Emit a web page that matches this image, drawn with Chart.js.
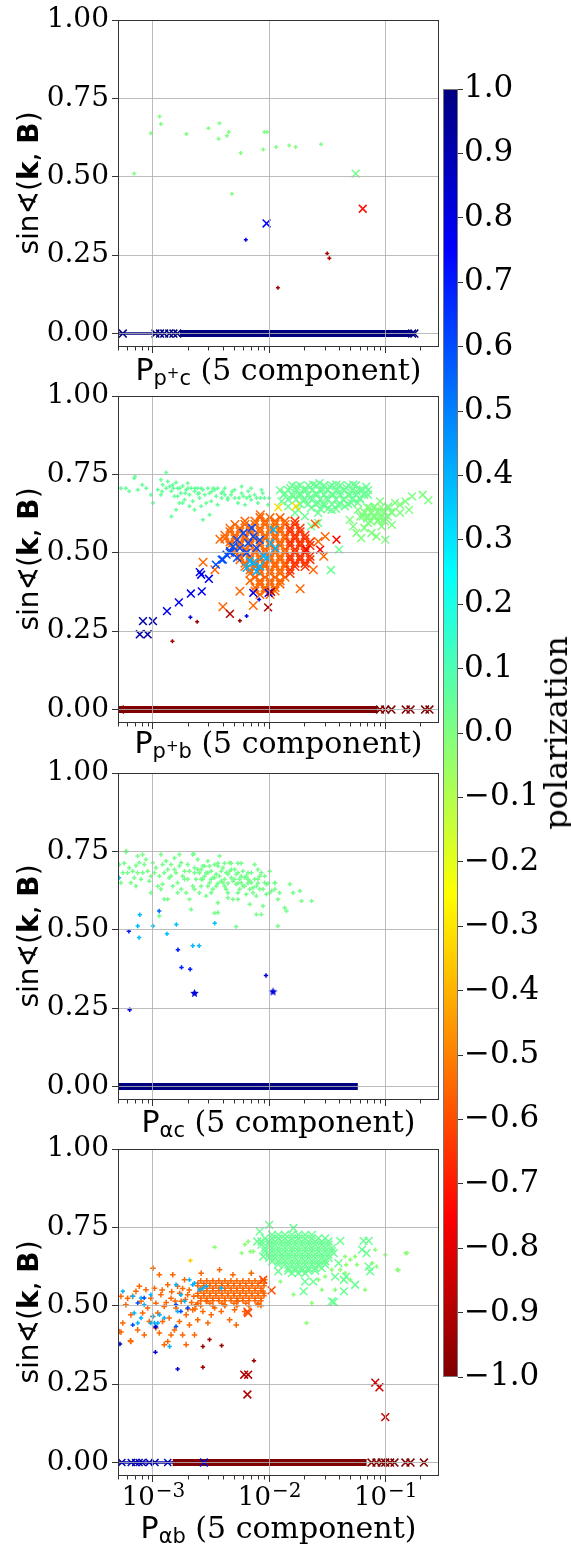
<!DOCTYPE html>
<html>
<head>
<meta charset="utf-8">
<title>sin(k,B) vs power, 5 component</title>
<script src="https://cdn.jsdelivr.net/npm/chart.js@4.4.1/dist/chart.umd.min.js"></script>
<style>
  html, body { margin: 0; padding: 0; background: #fff; }
  body { position: relative; width: 571px; height: 1547px; overflow: hidden; }
  canvas { position: absolute; }
  .ylab { position: absolute; left: 29px; font: 28px "DejaVu Sans"; line-height: 1; white-space: nowrap;
          transform: translate(-50%, -50%) rotate(-90deg); }
  .xlab { position: absolute; left: 118px; width: 321px; text-align: center; font: 30px "DejaVu Serif";
          line-height: 1; white-space: nowrap; }
  .m { font-family: "DejaVu Sans"; }
  .m sub { font-size: 21px; vertical-align: -5px; line-height: 0; }
  .m sup { font-size: 15px; vertical-align: 7px; line-height: 0; }
  .cblab { position: absolute; left: 556px; top: 733px; font: 32px "DejaVu Serif"; line-height: 1;
           white-space: nowrap; transform: translate(-50%, -50%) rotate(-90deg); }
</style>
</head>
<body>
<canvas id="c1" width="449" height="373" style="left:0;top:-4px"></canvas>
<canvas id="c2" width="449" height="373" style="left:0;top:372px"></canvas>
<canvas id="c3" width="449" height="373" style="left:0;top:749px"></canvas>
<canvas id="c4" width="449" height="401" style="left:0;top:1125px"></canvas>
<canvas id="cb" width="128" height="1328" style="left:443px;top:69px"></canvas>

<div class="ylab" style="top:183px">sin∢(<b>k</b>, <b>B</b>)</div>
<div class="ylab" style="top:559px">sin∢(<b>k</b>, <b>B</b>)</div>
<div class="ylab" style="top:936px">sin∢(<b>k</b>, <b>B</b>)</div>
<div class="ylab" style="top:1312px">sin∢(<b>k</b>, <b>B</b>)</div>

<div class="xlab" style="top:355px"><span class="m">P<sub>p<sup>+</sup>c</sub></span> (5 component)</div>
<div class="xlab" style="top:728px"><span class="m">P<sub>p<sup>+</sup>b</sub></span> (5 component)</div>
<div class="xlab" style="top:1107px"><span class="m">P<sub>αc</sub></span> (5 component)</div>
<div class="xlab" style="top:1513px"><span class="m">P<sub>αb</sub></span> (5 component)</div>

<div class="cblab">polarization</div>

<script>
// axes
const xMin = 5e-4, xMax = 0.29;
const yMin = -0.043, yMax = 1.0;
const yTicks = [0, 0.25, 0.5, 0.75, 1.0];
const xMajor = [1e-3, 1e-2, 1e-1];
const xTickExp = ['\u22123', '\u22122', '\u22121'];
const xMinor = [5e-4, 6e-4, 7e-4, 8e-4, 9e-4, 2e-3, 3e-3, 4e-3, 5e-3, 6e-3, 7e-3, 8e-3, 9e-3,
                2e-2, 3e-2, 4e-2, 5e-2, 6e-2, 7e-2, 8e-2, 9e-2, 2e-1];
const cbTicks = [-1.0, -0.9, -0.8, -0.7, -0.6, -0.5, -0.4, -0.3, -0.2, -0.1, 0.0,
                 0.1, 0.2, 0.3, 0.4, 0.5, 0.6, 0.7, 0.8, 0.9, 1.0];

// ---------- panel 1 : P_p+c ----------
const s1BandThin = [[5.1e-4, 0], [1.1e-3, 0]];
const s1BandThick = [[1.7e-3, 0], [0.17, 0]];
const s1BandCrossX = [5.5e-4, 1.05e-3, 1.15e-3, 1.25e-3, 1.38e-3, 1.5e-3, 1.62e-3, 0.17, 0.178];
const s1BandPol = 1.0;
const s1GreenPlus = [[6.9e-4,0.51],[9.6e-4,0.639],[1.14e-3,0.692],[1.17e-3,0.668],[1.94e-3,0.636],[3.0e-3,0.655],
  [3.74e-3,0.671],[3.67e-3,0.621],[4.33e-3,0.631],[4.49e-3,0.643],[5.7e-3,0.576],[4.78e-3,0.446],[8.9e-3,0.587],
  [9.1e-3,0.643],[9.6e-3,0.643],[1.15e-2,0.595],[1.49e-2,0.600],[1.69e-2,0.595],[2.8e-2,0.604]];
const s1GreenPol = 0.0;
const s1GreenCross = [[5.56e-2,0.51]];
const s1GreenCrossPol = 0.02;
const s1RedCross = [[6.4e-2,0.398]];
const s1RedCrossPol = -0.72;
const s1BlueCross = [[9.5e-3,0.351]];
const s1BlueCrossPol = 0.75;
const s1BluePlus = [[6.3e-3,0.299]];
const s1BluePlusPol = 0.8;
const s1DarkRedPlus = [[3.16e-2,0.255],[3.3e-2,0.24],[1.19e-2,0.146]];
const s1DarkRedPol = -0.92;

// ---------- panel 2 : P_p+b ----------
const s2BandThick = [[5.0e-4, 0], [8.6e-2, 0]];
const s2BandCrossX = [5.2e-4, 0.09, 0.1, 0.113, 0.15, 0.165, 0.22, 0.24];
const s2BandPol = -1.0;
const s2GreenPlus = [[5.0e-4,0.706],[5.3e-4,0.706],[5.85e-4,0.706],[6.25e-4,0.696],[6.9e-4,0.738],[7.0e-4,0.743],
  [7.4e-4,0.701],[8.1e-4,0.717],[8.75e-4,0.706],[9.6e-4,0.685],[1.0e-3,0.659],[1.1e-3,0.701],[1.17e-3,0.733],
  [1.17e-3,0.685],[1.21e-3,0.717],[1.3e-3,0.756],[1.3e-3,0.706],[1.34e-3,0.727],[1.39e-3,0.711],[1.44e-3,0.696],
  [1.44e-3,0.616],[1.48e-3,0.717],[1.5e-3,0.706],[1.53e-3,0.68],[1.58e-3,0.724],[1.58e-3,0.637],[1.63e-3,0.706],
  [1.63e-3,0.68],[1.69e-3,0.659],[1.7e-3,0.706],[1.74e-3,0.69],[1.8e-3,0.713],[1.8e-3,0.659],[1.87e-3,0.669],
  [1.93e-3,0.701],[1.99e-3,0.722],[2.0e-3,0.706],[2.06e-3,0.685],[2.06e-3,0.648],[2.13e-3,0.706],[2.2e-3,0.664],
  [2.28e-3,0.696],[2.28e-3,0.637],[2.3e-3,0.706],[2.43e-3,0.706],[2.43e-3,0.688],[2.52e-3,0.675],[2.6e-3,0.648],
  [2.6e-3,0.706],[2.69e-3,0.701],[2.69e-3,0.605],[2.79e-3,0.685],[2.88e-3,0.659],[2.97e-3,0.706],[3.07e-3,0.69],
  [3.07e-3,0.621],[3.18e-3,0.664],[3.3e-3,0.706],[3.4e-3,0.701],[3.5e-3,0.68],[3.6e-3,0.653],[3.6e-3,0.706],
  [3.87e-3,0.69],[3.9e-3,0.675],[4.15e-3,0.706],[4.15e-3,0.685],[4.4e-3,0.669],[4.4e-3,0.675],[4.7e-3,0.685],
  [5.05e-3,0.701],[5.05e-3,0.675],[5.4e-3,0.659],[5.5e-3,0.675],[5.8e-3,0.711],[6.0e-3,0.68],[6.2e-3,0.653],
  [6.4e-3,0.675],[6.6e-3,0.696],[7.0e-3,0.669],[7.0e-3,0.706],[7.5e-3,0.685],[7.8e-3,0.675],[8.0e-3,0.659],
  [8.4e-3,0.675],[8.6e-3,0.701],[9.1e-3,0.675],[9.8e-3,0.653],[1.2e-3,0.695],[1.9e-3,0.69],[2.5e-3,0.69],
  [3.2e-3,0.695],[4.0e-3,0.695],[4.8e-3,0.695],[5.8e-3,0.69],[6.8e-3,0.68],[8.8e-3,0.69],[1.0e-2,0.675]];
const s2GreenPlusPol = 0.05;
const s2GreenCross = [[1.28e-2,0.664],[1.37e-2,0.69],[1.46e-2,0.648],[1.52e-2,0.706],[1.62e-2,0.68],[1.67e-2,0.627],
  [1.72e-2,0.711],[1.78e-2,0.637],[1.84e-2,0.69],[1.97e-2,0.664],[2.03e-2,0.616],[2.1e-2,0.701],[2.24e-2,0.675],
  [2.3e-2,0.643],[2.3e-2,0.584],[2.39e-2,0.717],[2.55e-2,0.69],[2.64e-2,0.659],[2.64e-2,0.627],[2.64e-2,0.595],
  [2.72e-2,0.722],[2.9e-2,0.701],[3.0e-2,0.648],[3.1e-2,0.675],[3.32e-2,0.711],[3.45e-2,0.637],[3.57e-2,0.685],
  [3.8e-2,0.717],[3.9e-2,0.653],[4.05e-2,0.696],[4.35e-2,0.669],[4.5e-2,0.648],[4.65e-2,0.706],[4.95e-2,0.685],
  [5.1e-2,0.659],[5.3e-2,0.717],[5.65e-2,0.696],[5.8e-2,0.659],[6.0e-2,0.675],[6.4e-2,0.701],[6.85e-2,0.711],
  [7.1e-2,0.685],[3.4e-2,0.445],[4.0e-2,0.51],
  [1.58e-2,0.715],[1.85e-2,0.715],[2.17e-2,0.715],[2.54e-2,0.715],[2.97e-2,0.715],[3.48e-2,0.715],[4.09e-2,0.715],
  [4.8e-2,0.715],[5.6e-2,0.715],
  [1.242e-2,0.70],[1.46e-2,0.70],[1.71e-2,0.70],[2.0e-2,0.70],[2.34e-2,0.70],[2.75e-2,0.70],[3.2e-2,0.70],
  [3.77e-2,0.70],[4.4e-2,0.70],[5.2e-2,0.70],[6.1e-2,0.70],[7.1e-2,0.70],
  [1.34e-2,0.685],[1.58e-2,0.685],[1.85e-2,0.685],[2.17e-2,0.685],[2.54e-2,0.685],[2.97e-2,0.685],[3.48e-2,0.685],
  [4.09e-2,0.685],[4.8e-2,0.685],[5.6e-2,0.685],[6.6e-2,0.685],
  [1.46e-2,0.67],[1.71e-2,0.67],[2.0e-2,0.67],[2.34e-2,0.67],[2.75e-2,0.67],[3.2e-2,0.67],[3.77e-2,0.67],
  [4.4e-2,0.67],[5.2e-2,0.67],[6.1e-2,0.67],
  [1.85e-2,0.655],[2.17e-2,0.655],[2.54e-2,0.655],[2.97e-2,0.655],[3.48e-2,0.655],[4.09e-2,0.655],[4.8e-2,0.655],
  [2.75e-2,0.64],[3.2e-2,0.64],[3.77e-2,0.64]];
const s2GreenCrossPol = 0.04;
const s2LimeCross = [[5.8e-2,0.637],[6.4e-2,0.616],[7.1e-2,0.595],[7.6e-2,0.627],[8.1e-2,0.648],[8.7e-2,0.605],
  [9.3e-2,0.632],[0.1,0.61],[0.106,0.648],[0.114,0.627],[0.121,0.659],[6.6e-2,0.579],[7.6e-2,0.563],[8.4e-2,0.552],
  [0.1,0.542],[5.65e-2,0.563],[6.2e-2,0.547],[9.3e-2,0.584],[7.35e-2,0.643],[9.0e-2,0.664],[0.134,0.653],
  [0.149,0.664],[0.17,0.68],[0.21,0.685],[0.235,0.667],[0.134,0.627],[0.114,0.589],[0.16,0.637],[4.95e-2,0.605],
  [5.3e-2,0.584],[8.0e-2,0.62],[9.0e-2,0.61],[7.0e-2,0.61],
  [7.0e-2,0.645],[8.0e-2,0.645],[9.2e-2,0.645],[0.105,0.645],[6.6e-2,0.63],[7.5e-2,0.63],[8.6e-2,0.63],
  [9.9e-2,0.63],[0.113,0.63],[6.1e-2,0.615],[7.0e-2,0.615],[8.0e-2,0.615],[9.2e-2,0.615],[0.105,0.615],
  [7.5e-2,0.60],[8.6e-2,0.60],[9.9e-2,0.60]];
const s2LimeCrossPol = 0.0;
const s2YellowCross = [[1.2e-2,0.645],[1.7e-2,0.648],[1.11e-2,0.58]];
const s2YellowPol = -0.32;
const s2Orange = [
  [8.34e-3,0.612],[1.019e-2,0.612],[1.242e-2,0.612],
  [6.19e-3,0.601],[7.55e-3,0.601],[9.22e-3,0.601],[1.125e-2,0.601],[1.372e-2,0.601],
  [5.08e-3,0.590],[6.19e-3,0.590],[7.55e-3,0.590],[9.22e-3,0.590],[1.125e-2,0.590],[1.372e-2,0.590],
  [4.6e-3,0.578],[5.61e-3,0.578],[6.84e-3,0.578],[8.34e-3,0.578],[1.019e-2,0.578],[1.242e-2,0.578],
  [4.6e-3,0.567],[5.61e-3,0.567],[6.84e-3,0.567],[8.34e-3,0.567],[1.019e-2,0.567],[1.242e-2,0.567],
  [4.16e-3,0.556],[5.08e-3,0.556],[6.19e-3,0.556],[7.55e-3,0.556],[9.22e-3,0.556],[1.125e-2,0.556],[1.372e-2,0.556],
  [4.16e-3,0.545],[5.08e-3,0.545],[6.19e-3,0.545],[7.55e-3,0.545],[9.22e-3,0.545],[1.125e-2,0.545],[1.372e-2,0.545],
  [4.6e-3,0.534],[5.61e-3,0.534],[6.84e-3,0.534],[8.34e-3,0.534],[1.019e-2,0.534],[1.242e-2,0.534],
  [4.6e-3,0.523],[5.61e-3,0.523],[6.84e-3,0.523],[8.34e-3,0.523],[1.019e-2,0.523],[1.242e-2,0.523],
  [5.08e-3,0.511],[6.19e-3,0.511],[7.55e-3,0.511],[9.22e-3,0.511],[1.125e-2,0.511],[1.372e-2,0.511],
  [5.08e-3,0.500],[6.19e-3,0.500],[7.55e-3,0.500],[9.22e-3,0.500],[1.125e-2,0.500],[1.372e-2,0.500],
  [5.61e-3,0.489],[6.84e-3,0.489],[8.34e-3,0.489],[1.019e-2,0.489],[1.242e-2,0.489],
  [5.61e-3,0.478],[6.84e-3,0.478],[8.34e-3,0.478],[1.019e-2,0.478],[1.242e-2,0.478],
  [6.19e-3,0.467],[7.55e-3,0.467],[9.22e-3,0.467],[1.125e-2,0.467],[1.372e-2,0.467],
  [6.19e-3,0.456],[7.55e-3,0.456],[9.22e-3,0.456],[1.125e-2,0.456],[1.372e-2,0.456],
  [6.84e-3,0.445],[8.34e-3,0.445],[1.019e-2,0.445],[1.242e-2,0.445],
  [6.84e-3,0.434],[8.34e-3,0.434],[1.019e-2,0.434],[1.242e-2,0.434],
  [7.55e-3,0.422],[9.22e-3,0.422],[1.125e-2,0.422],[1.372e-2,0.422],
  [6.84e-3,0.411],[8.34e-3,0.411],[1.019e-2,0.411],[1.242e-2,0.411],
  [8.34e-3,0.400],[1.019e-2,0.400],[1.242e-2,0.400],
  [7.55e-3,0.389],[9.22e-3,0.389],[1.125e-2,0.389],
  [7.55e-3,0.378],[9.22e-3,0.378],[1.125e-2,0.378],
  [8.34e-3,0.367],[1.019e-2,0.367],
  [3.77e-3,0.543],[2.7e-3,0.47],[3.41e-3,0.446],[5.6e-3,0.377],[4.0e-3,0.328],[7.3e-3,0.332],[8.4e-3,0.621],
  [1.85e-2,0.385],[2.49e-2,0.592],[2.65e-2,0.536],[2.95e-2,0.489],[3.04e-2,0.552],[2.4e-2,0.446]];
const s2OrangePol = -0.55;
const s2RedOrange = [[1.67e-2,0.601],[1.67e-2,0.590],[1.515e-2,0.578],[1.85e-2,0.578],[1.515e-2,0.567],[1.85e-2,0.567],
  [1.67e-2,0.556],[2.04e-2,0.556],[1.67e-2,0.545],[2.04e-2,0.545],[1.515e-2,0.534],[1.85e-2,0.534],[2.25e-2,0.534],
  [1.515e-2,0.523],[1.85e-2,0.523],[2.25e-2,0.523],[1.67e-2,0.511],[2.04e-2,0.511],[1.67e-2,0.500],[2.04e-2,0.500],
  [1.515e-2,0.489],[1.85e-2,0.489],[2.25e-2,0.489],[1.515e-2,0.478],[1.85e-2,0.478],[2.25e-2,0.478],
  [1.67e-2,0.467],[2.04e-2,0.467],[1.67e-2,0.456],[2.04e-2,0.456],[1.515e-2,0.445],[1.515e-2,0.434]];
const s2RedOrangePol = -0.65;
const s2RedCross = [[2.75e-2,0.51],[3.8e-2,0.542],[2.1e-2,0.51]];
const s2RedCrossPol = -0.75;
const s2DarkRedCross = [[4.6e-3,0.305],[9.8e-3,0.326],[1.04e-2,0.375]];
const s2DarkRedCrossPol = -0.9;
const s2DarkRedPlus = [[2.4e-3,0.28],[5.6e-3,0.283],[1.47e-3,0.218]];
const s2DarkRedPlusPol = -0.95;
const s2BluePlus = [[2.1e-3,0.294],[6.4e-3,0.298],[8.2e-3,0.351]];
const s2BluePlusPol = 0.8;
const s2NavyCross = [[7.7e-4,0.24],[9.0e-4,0.24],[8.2e-4,0.282],[1.0e-3,0.282]];
const s2NavyCrossPol = 0.92;
const s2BlueCross = [[1.32e-3,0.314],[1.67e-3,0.342],[2.12e-3,0.37],[2.63e-3,0.377],[2.53e-3,0.438],[2.6e-3,0.43],
  [3.03e-3,0.417],[7.3e-3,0.372],[9.9e-3,0.372]];
const s2BlueCrossPol = 0.78;
const s2MidBlueCross = [[3.48e-3,0.462],[3.9e-3,0.478],[4.3e-3,0.494],[4.6e-3,0.505],[5.3e-3,0.541],[6.0e-3,0.563],
  [6.6e-3,0.531],[5.6e-3,0.515],[7.3e-3,0.552],[7.8e-3,0.515],[6.4e-3,0.5],[4.9e-3,0.52],[7.1e-3,0.579],
  [8.3e-3,0.541],[4.6e-3,0.5],[4.0e-3,0.478],[5.3e-3,0.484]];
const s2MidBlueCrossPol = 0.6;
const s2LightBlueCross = [[6.4e-3,0.452],[7.3e-3,0.468],[8.3e-3,0.457],[7.8e-3,0.441],[6.8e-3,0.473],[9.6e-3,0.484],
  [1.02e-2,0.531],[1.09e-2,0.574],[1.13e-2,0.515],[8.9e-3,0.489]];
const s2LightBlueCrossPol = 0.4;

// ---------- panel 3 : P_alpha c ----------
const s3BandThick = [[5.0e-4, 0], [5.8e-2, 0]];
const s3BandPol = 1.0;
const s3GreenPlus = [[5.12e-4,0.708],[5.66e-4,0.712],[5.85e-4,0.748],[6.05e-4,0.682],[6.46e-4,0.65],[6.68e-4,0.687],
  [7.14e-4,0.705],[7.38e-4,0.735],[7.63e-4,0.714],[8.15e-4,0.682],[8.42e-4,0.708],[9.0e-4,0.687],[9.3e-4,0.655],
  [9.6e-4,0.618],[9.94e-4,0.714],[1.03e-3,0.682],[1.06e-3,0.698],[1.135e-3,0.671],[1.17e-3,0.74],[1.21e-3,0.645],
  [1.25e-3,0.597],[1.3e-3,0.719],[1.34e-3,0.692],[1.38e-3,0.666],[1.43e-3,0.708],[1.48e-3,0.639],[1.53e-3,0.729],
  [1.58e-3,0.682],[1.63e-3,0.65],[1.69e-3,0.703],[1.75e-3,0.714],[1.8e-3,0.671],[1.87e-3,0.687],[1.93e-3,0.618],
  [1.99e-3,0.708],[2.06e-3,0.597],[2.13e-3,0.565],[2.2e-3,0.74],[2.28e-3,0.698],[2.35e-3,0.661],[2.43e-3,0.724],
  [2.51e-3,0.682],[2.6e-3,0.639],[2.69e-3,0.703],[2.78e-3,0.671],[2.87e-3,0.608],[2.97e-3,0.719],[3.07e-3,0.65],
  [3.17e-3,0.687],[3.28e-3,0.629],[3.39e-3,0.708],[3.5e-3,0.677],[3.62e-3,0.586],[3.74e-3,0.735],[3.87e-3,0.655],
  [4.0e-3,0.698],[4.13e-3,0.639],[4.27e-3,0.682],[4.42e-3,0.618],[4.57e-3,0.714],[4.72e-3,0.666],[4.88e-3,0.597],
  [5.04e-3,0.692],[5.21e-3,0.645],[5.39e-3,0.712],[5.57e-3,0.629],[5.76e-3,0.671],[5.95e-3,0.687],[6.15e-3,0.639],
  [6.36e-3,0.613],[6.58e-3,0.661],[6.8e-3,0.581],[7.03e-3,0.682],[7.26e-3,0.634],[7.51e-3,0.708],[7.76e-3,0.608],
  [8.02e-3,0.661],[8.29e-3,0.629],[8.57e-3,0.682],[8.86e-3,0.576],[9.16e-3,0.65],[9.47e-3,0.613],[1.01e-2,0.687],
  [1.05e-2,0.624],[1.12e-2,0.65],[1.19e-2,0.597],[1.23e-2,0.618],[1.36e-2,0.57],[1.41e-2,0.56],[1.51e-2,0.645],
  [1.61e-2,0.618],[1.84e-2,0.624],[1.9e-2,0.592],[2.32e-2,0.592],[3.62e-3,0.555],[3.39e-3,0.553],[1.34e-3,0.597],
  [1.21e-3,0.708],[8.15e-4,0.74],[5.3e-4,0.65],[7.14e-4,0.639],[1.69e-3,0.74],[7.76e-3,0.549],[8.57e-3,0.549],
  [1.19e-2,0.512],[5.21e-3,0.51],[1.135e-3,0.544],[2.97e-3,0.639],[2.6e-3,0.661],
  [3.62e-3,0.648],[4.42e-3,0.648],[5.39e-3,0.648],[6.58e-3,0.648],[8.02e-3,0.648],[9.8e-3,0.648],[1.12e-2,0.648],
  [3.62e-3,0.712],[4.13e-3,0.712],[4.72e-3,0.712],[5.76e-3,0.712],[5.9e-4,0.751],[2.25e-3,0.742],
  [2.6e-3,0.692],[2.97e-3,0.682],[3.39e-3,0.666],[3.87e-3,0.687],[4.42e-3,0.677],[5.04e-3,0.661],[5.76e-3,0.65],
  [6.58e-3,0.682],[7.51e-3,0.661],[4.72e-3,0.692],[5.39e-3,0.682],[6.15e-3,0.666],[7.03e-3,0.65],[4.13e-3,0.661],
  [3.62e-3,0.703],[3.17e-3,0.661],[2.78e-3,0.703],[2.28e-3,0.682],[1.99e-3,0.661],[8.02e-3,0.692],[9.16e-3,0.671],
  [5.39e-3,0.618],[6.8e-3,0.629],
  [5.5e-4,0.682],[6.25e-4,0.698],[6.9e-4,0.666],[7.9e-4,0.661],[8.7e-4,0.724],[1.1e-3,0.639],[1.25e-3,0.682],
  [1.43e-3,0.671],[1.53e-3,0.692],[1.75e-3,0.629],[1.87e-3,0.661],[2.06e-3,0.687],[2.2e-3,0.639],[2.43e-3,0.692],
  [2.51e-3,0.618],[2.69e-3,0.661],[2.87e-3,0.682],[3.07e-3,0.703],[3.28e-3,0.666],[3.5e-3,0.639],[3.74e-3,0.671],
  [4.0e-3,0.65],[4.27e-3,0.629],[4.57e-3,0.687],[4.88e-3,0.655],[5.21e-3,0.677],[5.57e-3,0.661],[5.95e-3,0.639],
  [6.36e-3,0.671],[6.8e-3,0.655],[7.26e-3,0.618],[7.76e-3,0.639],[8.29e-3,0.671],[8.86e-3,0.629],[9.47e-3,0.645],
  [1.01e-2,0.618],[1.12e-2,0.629],[5.39e-3,0.597],[4.42e-3,0.602],[3.17e-3,0.618],[2.28e-3,0.629],[1.63e-3,0.618],
  [1.17e-3,0.629],[7.38e-4,0.682],[9.6e-4,0.671]];
const s3GreenPol = 0.02;
const s3LightBluePlus = [[7.7e-4,0.548],[7.4e-4,0.512],[7.6e-4,0.475],[1.0e-3,0.512],[1.32e-3,0.487],[1.59e-3,0.517],
  [2.2e-3,0.449],[2.5e-3,0.449],[3.4e-3,0.521],[5.1e-4,0.666]];
const s3LightBluePol = 0.38;
const s3MidBluePlus = [[1.13e-3,0.56]];
const s3MidBluePol = 0.55;
const s3BluePlus = [[6.2e-4,0.495],[1.64e-3,0.436],[1.76e-3,0.38],[2.09e-3,0.374]];
const s3BluePol = 0.7;
const s3DarkBluePlus = [[9.4e-3,0.354],[6.3e-4,0.245]];
const s3DarkBluePol = 0.82;
const s3Stars = [[2.28e-3,0.297],[1.08e-2,0.302]];
const s3StarPol = 0.82;

// ---------- panel 4 : P_alpha b ----------
const s4BandBlueThin = [[5.0e-4, 0], [1.6e-3, 0]];
const s4BandBlueCrossX = [5.4e-4, 6.5e-4, 7.1e-4, 7.6e-4, 8.1e-4, 9.3e-4, 1.04e-3, 1.34e-3];
const s4BandBluePol = 0.9;
const s4BandRedThick = [[1.48e-3, 0], [6.9e-2, 0]];
const s4BandRedCrossX = [7.6e-2, 8.4e-2, 9.3e-2, 0.1, 0.11, 0.12, 0.149, 0.165, 0.215];
const s4BandRedPol = -1.0;
const s4BandBigBlueX = [2.74e-3];
const s4BandBigBluePol = 0.85;
const s4OrangePlus = [
  [2.58e-3,0.580],[2.91e-3,0.580],[3.28e-3,0.580],[3.69e-3,0.580],[4.16e-3,0.580],[4.69e-3,0.580],[5.28e-3,0.580],
  [5.95e-3,0.580],[6.70e-3,0.580],[7.55e-3,0.580],[8.51e-3,0.580],
  [2.43e-3,0.572],[2.74e-3,0.572],[3.09e-3,0.572],[3.48e-3,0.572],[3.92e-3,0.572],[4.42e-3,0.572],[4.98e-3,0.572],
  [5.61e-3,0.572],[6.31e-3,0.572],[7.11e-3,0.572],[8.02e-3,0.572],[9.03e-3,0.572],
  [2.43e-3,0.564],[2.74e-3,0.564],[3.09e-3,0.564],[3.48e-3,0.564],[3.92e-3,0.564],[4.42e-3,0.564],[4.98e-3,0.564],
  [5.61e-3,0.564],[6.31e-3,0.564],[7.11e-3,0.564],[8.02e-3,0.564],[9.03e-3,0.564],
  [2.58e-3,0.556],[2.91e-3,0.556],[3.28e-3,0.556],[3.69e-3,0.556],[4.16e-3,0.556],[4.69e-3,0.556],[5.28e-3,0.556],
  [5.95e-3,0.556],[6.70e-3,0.556],[7.55e-3,0.556],[8.51e-3,0.556],
  [2.58e-3,0.548],[2.91e-3,0.548],[3.28e-3,0.548],[3.69e-3,0.548],[4.16e-3,0.548],[4.69e-3,0.548],[5.28e-3,0.548],
  [5.95e-3,0.548],[6.70e-3,0.548],[7.55e-3,0.548],[8.51e-3,0.548],
  [2.43e-3,0.540],[2.74e-3,0.540],[3.09e-3,0.540],[3.48e-3,0.540],[3.92e-3,0.540],[4.42e-3,0.540],[4.98e-3,0.540],
  [5.61e-3,0.540],[6.31e-3,0.540],[7.11e-3,0.540],[8.02e-3,0.540],[9.03e-3,0.540],
  [2.43e-3,0.532],[2.74e-3,0.532],[3.09e-3,0.532],[3.48e-3,0.532],[3.92e-3,0.532],[4.42e-3,0.532],[4.98e-3,0.532],
  [5.61e-3,0.532],[6.31e-3,0.532],[7.11e-3,0.532],[8.02e-3,0.532],[9.03e-3,0.532],
  [2.58e-3,0.524],[2.91e-3,0.524],[3.28e-3,0.524],[3.69e-3,0.524],[4.16e-3,0.524],[4.69e-3,0.524],[5.28e-3,0.524],
  [5.95e-3,0.524],[6.70e-3,0.524],[7.55e-3,0.524],[8.51e-3,0.524],
  [2.58e-3,0.516],[2.91e-3,0.516],[3.28e-3,0.516],[3.69e-3,0.516],[4.16e-3,0.516],[4.69e-3,0.516],[5.28e-3,0.516],
  [5.95e-3,0.516],[6.70e-3,0.516],[7.55e-3,0.516],[8.51e-3,0.516],
  [2.43e-3,0.508],[3.09e-3,0.508],[3.92e-3,0.508],[4.98e-3,0.508],[6.31e-3,0.508],[8.02e-3,0.508],
  [2.58e-3,0.500],[3.28e-3,0.500],[4.16e-3,0.500],[5.28e-3,0.500],[6.70e-3,0.500],[8.51e-3,0.500],
  [5.3e-4,0.53],[5.5e-4,0.445],[5.85e-4,0.503],[6.46e-4,0.471],[6.68e-4,0.53],[7.14e-4,0.546],[7.38e-4,0.423],
  [7.63e-4,0.562],[7.9e-4,0.514],[8.15e-4,0.477],[8.42e-4,0.407],[8.7e-4,0.551],[9.0e-4,0.493],[9.3e-4,0.45],
  [9.6e-4,0.524],[9.94e-4,0.466],[1.03e-3,0.556],[1.06e-3,0.508],[1.1e-3,0.477],[1.135e-3,0.599],[1.135e-3,0.413],
  [1.17e-3,0.535],[1.21e-3,0.45],[1.25e-3,0.498],[1.34e-3,0.567],[1.34e-3,0.386],[1.38e-3,0.461],[1.43e-3,0.524],
  [1.48e-3,0.599],[1.53e-3,0.423],[1.58e-3,0.493],[1.63e-3,0.562],[1.69e-3,0.45],[1.75e-3,0.514],[1.8e-3,0.407],
  [1.87e-3,0.583],[1.93e-3,0.471],[1.99e-3,0.535],[2.06e-3,0.439],[2.2e-3,0.487],[2.35e-3,0.503],[2.43e-3,0.455],
  [2.6e-3,0.604],[2.69e-3,0.482],[2.87e-3,0.514],[2.97e-3,0.445],[3.17e-3,0.471],[3.39e-3,0.493],[3.74e-3,0.615],
  [3.87e-3,0.482],[4.13e-3,0.503],[4.57e-3,0.455],[4.88e-3,0.599],[5.04e-3,0.487],[5.21e-3,0.439],[5.39e-3,0.514],
  [6.15e-3,0.482],[7.03e-3,0.604],[8.02e-3,0.503],[9.16e-3,0.583],[8.86e-3,0.546],[6.05e-4,0.524],[5.12e-4,0.418],
  [6.46e-4,0.386],[1.06e-3,0.429],[1.25e-3,0.376],[1.93e-3,0.376],[1.43e-3,0.407],[2.28e-3,0.407],[5.3e-4,0.416],
  [6.4e-4,0.388],[1.0e-3,0.62],[1.2e-3,0.55],[1.3e-3,0.51],[1.45e-3,0.545],[1.55e-3,0.515],[1.7e-3,0.54],
  [1.8e-3,0.555],[1.9e-3,0.52],[2.05e-3,0.55],[2.15e-3,0.51],[2.25e-3,0.53],[2.3e-3,0.49],[2.0e-3,0.49]];
const s4OrangePol = -0.55;
const s4OrangeCross = [[6.5e-3,0.481],[1.05e-2,0.549],[8.9e-3,0.583],[6.6e-3,0.477]];
const s4OrangeCrossPol = -0.6;
const s4YellowPlus = [[2.1e-3,0.644]];
const s4YellowPol = -0.35;
const s4LightBluePlus = [[5.5e-4,0.546],[6.7e-4,0.53],[7.9e-4,0.525],[8.4e-4,0.503],[9.6e-4,0.535],[1.0e-3,0.466],
  [1.14e-3,0.471],[1.25e-3,0.461],[1.1e-3,0.445],[9.6e-4,0.445],[1.03e-3,0.445],[7.4e-4,0.445],[7.9e-4,0.461],
  [6.9e-4,0.477],[1.58e-3,0.567],[2.06e-3,0.583],[2.2e-3,0.567],[2.52e-3,0.551],[2.88e-3,0.562],[3.87e-3,0.556],
  [1.87e-3,0.514],[1.74e-3,0.535],[1.63e-3,0.482],[1.39e-3,0.37],[2.28e-3,0.572],[2.69e-3,0.556]];
const s4LightBluePol = 0.4;
const s4MidBluePlus = [[6.7e-4,0.439],[1.06e-3,0.434],[1.58e-3,0.434],[7.4e-4,0.509],[1.99e-3,0.493],[1.74e-3,0.482],
  [1.58e-3,0.503],[8.4e-4,0.525]];
const s4MidBluePol = 0.6;
const s4DarkBluePlus = [[1.63e-3,0.298],[1.05e-3,0.352],[5.2e-4,0.378],[1.05e-3,0.432]];
const s4DarkBluePol = 0.85;
const s4DarkRedPlus = [[3.07e-3,0.392],[2.69e-3,0.37],[3.9e-3,0.373],[2.69e-3,0.304],[7.4e-3,0.325]];
const s4DarkRedPlusPol = -0.95;
const s4DarkRedCross = [[6.1e-3,0.28],[6.6e-3,0.28],[6.5e-3,0.217]];
const s4DarkRedCrossPol = -0.9;
const s4RedCross = [[8.2e-2,0.255],[8.9e-2,0.24],[0.1,0.145]];
const s4RedCrossPol = -0.85;
const s4GreenCross = [
  [1.06e-2,0.726],[1.2e-2,0.726],[1.37e-2,0.726],[1.57e-2,0.726],[1.79e-2,0.726],[2.04e-2,0.726],[2.33e-2,0.726],
  [9.2e-3,0.715],[1.06e-2,0.715],[1.2e-2,0.715],[1.37e-2,0.715],[1.57e-2,0.715],[1.79e-2,0.715],[2.04e-2,0.715],
  [2.33e-2,0.715],[2.66e-2,0.715],[3.04e-2,0.715],
  [8.6e-3,0.705],[1.0e-2,0.705],[1.125e-2,0.705],[1.29e-2,0.705],[1.46e-2,0.705],[1.67e-2,0.705],[1.91e-2,0.705],
  [2.18e-2,0.705],[2.49e-2,0.705],[2.84e-2,0.705],[3.24e-2,0.705],
  [8.6e-3,0.695],[1.0e-2,0.695],[1.125e-2,0.695],[1.29e-2,0.695],[1.46e-2,0.695],[1.67e-2,0.695],[1.91e-2,0.695],
  [2.18e-2,0.695],[2.49e-2,0.695],[2.84e-2,0.695],[3.24e-2,0.695],
  [9.2e-3,0.684],[1.06e-2,0.684],[1.2e-2,0.684],[1.37e-2,0.684],[1.57e-2,0.684],[1.79e-2,0.684],[2.04e-2,0.684],
  [2.33e-2,0.684],[2.66e-2,0.684],[3.04e-2,0.684],[3.46e-2,0.684],
  [9.2e-3,0.674],[1.06e-2,0.674],[1.2e-2,0.674],[1.37e-2,0.674],[1.57e-2,0.674],[1.79e-2,0.674],[2.04e-2,0.674],
  [2.33e-2,0.674],[2.66e-2,0.674],[3.04e-2,0.674],[3.46e-2,0.674],
  [1.0e-2,0.663],[1.125e-2,0.663],[1.29e-2,0.663],[1.46e-2,0.663],[1.67e-2,0.663],[1.91e-2,0.663],[2.18e-2,0.663],
  [2.49e-2,0.663],[2.84e-2,0.663],[3.24e-2,0.663],
  [1.0e-2,0.653],[1.125e-2,0.653],[1.29e-2,0.653],[1.46e-2,0.653],[1.67e-2,0.653],[1.91e-2,0.653],[2.18e-2,0.653],
  [2.49e-2,0.653],[2.84e-2,0.653],[3.24e-2,0.653],
  [1.06e-2,0.642],[1.2e-2,0.642],[1.37e-2,0.642],[1.57e-2,0.642],[1.79e-2,0.642],[2.04e-2,0.642],[2.33e-2,0.642],
  [2.66e-2,0.642],[3.04e-2,0.642],
  [1.2e-2,0.632],[1.37e-2,0.632],[1.57e-2,0.632],[1.79e-2,0.632],[2.04e-2,0.632],[2.33e-2,0.632],[2.66e-2,0.632],
  [3.04e-2,0.632],
  [1.46e-2,0.62],[1.67e-2,0.62],[1.91e-2,0.62],[2.18e-2,0.62],[2.49e-2,0.62],[2.84e-2,0.62],
  [1.46e-2,0.612],[1.67e-2,0.612],[1.91e-2,0.612],[2.18e-2,0.612],[2.49e-2,0.612],
  [1.57e-2,0.604],[1.79e-2,0.604],[2.04e-2,0.604],
  [1.0e-2,0.758],[8.3e-3,0.737],[1.62e-2,0.748],[7.9e-3,0.705],[8.9e-3,0.657],[1.2e-2,0.61],[2.04e-2,0.577],
  [2.4e-2,0.577],[1.98e-2,0.546],[3.46e-2,0.514],[4.4e-2,0.546],[5.5e-2,0.567],[4.1e-2,0.707],[3.6e-2,0.668],
  [3.96e-2,0.636],[6.5e-2,0.707],[7.2e-2,0.707],[6.3e-2,0.679],[7.2e-2,0.625],[7.4e-2,0.61],[6.9e-2,0.668],
  [3.7e-2,0.593],[4.4e-2,0.583],[2.66e-2,0.63],[3.6e-2,0.512],[4.6e-2,0.593]];
const s4GreenCrossPol = 0.04;
const s4GreenPlus = [[6.6e-3,0.705],[7.3e-3,0.673],[1.25e-2,0.577],[1.62e-2,0.536],[2.33e-2,0.509],[2.84e-2,0.551],
  [3.7e-2,0.551],[4.52e-2,0.604],[5.0e-2,0.647],[5.7e-2,0.631],[5.5e-2,0.657],[4.52e-2,0.657],[3.46e-2,0.679],
  [3.46e-2,0.615],[3.04e-2,0.593],[4.1e-2,0.615],[5.0e-2,0.583],[6.7e-2,0.551],[7.7e-2,0.636],[8.2e-2,0.679],
  [8.4e-2,0.625],[0.1,0.663],[0.13,0.613],[0.154,0.668],[2.1e-2,0.445],[5.8e-3,0.668],[7.0e-3,0.604],
  [3.04e-2,0.642],[4.6e-2,0.631],[2.66e-2,0.583],[3.4e-3,0.687],[6.2e-3,0.695],[6.9e-3,0.673],[0.127,0.615],
  [0.15,0.668]];
const s4GreenPlusPol = -0.02;

// ---------- helpers ----------
const GRID = 'rgba(176,176,176,0.85)';
const AXIS = '#333';

function jet(p) {
  // polarization +1 -> dark blue, -1 -> dark red
  const t = (1 - p) / 2;
  const c = v => Math.round(255 * Math.max(0, Math.min(1, v)));
  return 'rgb(' + c(1.5 - Math.abs(4 * t - 3)) + ',' + c(1.5 - Math.abs(4 * t - 2)) + ',' + c(1.5 - Math.abs(4 * t - 1)) + ')';
}

function starImage(color, r) {
  const c = document.createElement('canvas');
  const s = Math.ceil(r * 2 + 2);
  c.width = c.height = s;
  const g = c.getContext('2d');
  g.fillStyle = color;
  g.beginPath();
  for (let i = 0; i < 10; i++) {
    const a = -Math.PI / 2 + i * Math.PI / 5;
    const rr = i % 2 ? r * 0.45 : r;
    g.lineTo(s / 2 + rr * Math.cos(a), s / 2 + rr * Math.sin(a));
  }
  g.closePath();
  g.fill();
  return c;
}

const onZero = xs => xs.map(x => [x, 0]);

function pointSet(points, pol, style, radius) {
  const col = jet(pol);
  return {
    data: points.map(([x, y]) => ({ x, y })),
    pointStyle: style === 'star' ? starImage(col, radius) : style,
    pointRadius: radius,
    pointBorderWidth: 1.5,
    borderColor: col,
    backgroundColor: col,
    showLine: false
  };
}

function bandLine(points, pol, width) {
  return {
    data: points.map(([x, y]) => ({ x, y })),
    showLine: true,
    pointRadius: 0,
    borderColor: jet(pol),
    borderWidth: width,
    borderCapStyle: 'butt'
  };
}

const framePlugin = {
  id: 'frame',
  afterDraw(chart, args, opts) {
    const { ctx, chartArea: a } = chart;
    ctx.save();
    ctx.strokeStyle = opts.color || AXIS;
    ctx.lineWidth = 1;
    ctx.strokeRect(Math.round(a.left) + 0.5, Math.round(a.top) + 0.5,
                   Math.round(a.right - a.left) - 1, Math.round(a.bottom - a.top) - 1);
    if (opts.minor) {
      const x = chart.scales.x;
      ctx.strokeStyle = AXIS;
      ctx.beginPath();
      xMinor.forEach(v => {
        const px = Math.round(x.getPixelForValue(v)) + 0.5;
        ctx.moveTo(px, a.bottom);
        ctx.lineTo(px, a.bottom + 3.5);
      });
      ctx.stroke();
    }
    if (opts.tickText) {
      const x = chart.scales.x;
      ctx.fillStyle = '#000';
      ctx.textAlign = 'left';
      ctx.textBaseline = 'alphabetic';
      xMajor.forEach((v, i) => {
        const px = x.getPixelForValue(v);
        ctx.font = '26px "DejaVu Serif"';
        const w1 = ctx.measureText('10').width;
        ctx.font = '20px "DejaVu Serif"';
        const w2 = ctx.measureText(xTickExp[i]).width;
        const left = px - (w1 + w2) / 2;
        ctx.font = '26px "DejaVu Serif"';
        ctx.fillText('10', left, a.bottom + 29);
        ctx.font = '20px "DejaVu Serif"';
        ctx.fillText(xTickExp[i], left + w1 + 1, a.bottom + 21);
      });
    }
    ctx.restore();
  }
};

function makePanel(id, datasets, withTickText) {
  return new Chart(document.getElementById(id), {
    type: 'scatter',
    data: { datasets: datasets.slice().reverse() },
    options: {
      responsive: false,
      animation: false,
      events: [],
      layout: { padding: { top: 24, right: 10, bottom: 0, left: 0 } },
      plugins: {
        legend: { display: false },
        tooltip: { enabled: false },
        frame: { minor: true, tickText: withTickText }
      },
      scales: {
        x: {
          type: 'logarithmic',
          min: xMin,
          max: xMax,
          afterBuildTicks: s => { s.ticks = xMajor.map(v => ({ value: v })); },
          afterFit: s => { s.height = withTickText ? 50 : 22; },
          ticks: { display: false },
          grid: { color: GRID, lineWidth: 1, z: 1, tickColor: AXIS, tickLength: 6 },
          border: { display: false }
        },
        y: {
          min: yMin,
          max: yMax,
          afterBuildTicks: s => { s.ticks = yTicks.map(v => ({ value: v })); },
          afterFit: s => { s.width = 118; },
          ticks: {
            font: { family: 'DejaVu Serif', size: 28 },
            color: '#000',
            padding: 3,
            callback: v => Number(v).toFixed(2)
          },
          grid: { color: GRID, lineWidth: 1, z: 1, tickColor: AXIS, tickLength: 6 },
          border: { display: false }
        }
      }
    },
    plugins: [framePlugin]
  });
}

// datasets listed bottom layer first
makePanel('c1', [
  bandLine(s1BandThin, s1BandPol, 2.5),
  bandLine(s1BandThick, s1BandPol, 7),
  pointSet(onZero(s1BandCrossX), s1BandPol, 'crossRot', 5.5),
  pointSet(s1GreenPlus, s1GreenPol, 'cross', 2),
  pointSet(s1GreenCross, s1GreenCrossPol, 'crossRot', 5.5),
  pointSet(s1RedCross, s1RedCrossPol, 'crossRot', 5.5),
  pointSet(s1BlueCross, s1BlueCrossPol, 'crossRot', 5.5),
  pointSet(s1BluePlus, s1BluePlusPol, 'cross', 2),
  pointSet(s1DarkRedPlus, s1DarkRedPol, 'cross', 2)
], false);

makePanel('c2', [
  bandLine(s2BandThick, s2BandPol, 7),
  pointSet(onZero(s2BandCrossX), s2BandPol, 'crossRot', 5.5),
  pointSet(s2GreenPlus, s2GreenPlusPol, 'cross', 2),
  pointSet(s2GreenCross, s2GreenCrossPol, 'crossRot', 5.5),
  pointSet(s2LimeCross, s2LimeCrossPol, 'crossRot', 5.5),
  pointSet(s2YellowCross, s2YellowPol, 'crossRot', 5.5),
  pointSet(s2Orange, s2OrangePol, 'crossRot', 6),
  pointSet(s2RedOrange, s2RedOrangePol, 'crossRot', 6),
  pointSet(s2RedCross, s2RedCrossPol, 'crossRot', 5.5),
  pointSet(s2MidBlueCross, s2MidBlueCrossPol, 'crossRot', 5.5),
  pointSet(s2LightBlueCross, s2LightBlueCrossPol, 'crossRot', 5.5),
  pointSet(s2BlueCross, s2BlueCrossPol, 'crossRot', 5.5),
  pointSet(s2NavyCross, s2NavyCrossPol, 'crossRot', 5.5),
  pointSet(s2DarkRedCross, s2DarkRedCrossPol, 'crossRot', 5.5),
  pointSet(s2DarkRedPlus, s2DarkRedPlusPol, 'cross', 2),
  pointSet(s2BluePlus, s2BluePlusPol, 'cross', 2)
], false);

makePanel('c3', [
  bandLine(s3BandThick, s3BandPol, 7),
  pointSet(s3GreenPlus, s3GreenPol, 'cross', 2.2),
  pointSet(s3LightBluePlus, s3LightBluePol, 'cross', 2.2),
  pointSet(s3MidBluePlus, s3MidBluePol, 'cross', 2.2),
  pointSet(s3BluePlus, s3BluePol, 'cross', 2.2),
  pointSet(s3DarkBluePlus, s3DarkBluePol, 'cross', 2.2),
  pointSet(s3Stars, s3StarPol, 'star', 4.5)
], false);

makePanel('c4', [
  bandLine(s4BandBlueThin, s4BandBluePol, 2.5),
  pointSet(onZero(s4BandBlueCrossX), s4BandBluePol, 'crossRot', 5),
  bandLine(s4BandRedThick, s4BandRedPol, 7),
  pointSet(onZero(s4BandRedCrossX), s4BandRedPol, 'crossRot', 5.5),
  pointSet(onZero(s4BandBigBlueX), s4BandBigBluePol, 'crossRot', 5.5),
  pointSet(s4GreenPlus, s4GreenPlusPol, 'cross', 2.2),
  pointSet(s4GreenCross, s4GreenCrossPol, 'crossRot', 5.5),
  pointSet(s4OrangePlus, s4OrangePol, 'cross', 2.8),
  pointSet(s4OrangeCross, s4OrangeCrossPol, 'crossRot', 5.5),
  pointSet(s4YellowPlus, s4YellowPol, 'cross', 2.2),
  pointSet(s4LightBluePlus, s4LightBluePol, 'cross', 2.2),
  pointSet(s4MidBluePlus, s4MidBluePol, 'cross', 2.2),
  pointSet(s4DarkBluePlus, s4DarkBluePol, 'cross', 2.2),
  pointSet(s4DarkRedPlus, s4DarkRedPlusPol, 'cross', 2.2),
  pointSet(s4DarkRedCross, s4DarkRedCrossPol, 'crossRot', 5.5),
  pointSet(s4RedCross, s4RedCrossPol, 'crossRot', 5.5)
], true);

// colour bar
function cbGradient(ctx, area) {
  const g = ctx.createLinearGradient(0, area.top, 0, area.bottom);
  for (let i = 0; i <= 40; i++) {
    const t = i / 40;
    g.addColorStop(t, jet(1 - 2 * t));
  }
  return g;
}

new Chart(document.getElementById('cb'), {
  type: 'bar',
  data: {
    labels: ['polarization'],
    datasets: [{
      data: [[cbTicks[0], cbTicks[cbTicks.length - 1]]],
      backgroundColor: c => (c.chart.chartArea ? cbGradient(c.chart.ctx, c.chart.chartArea) : 'transparent'),
      borderWidth: 0,
      barPercentage: 1,
      categoryPercentage: 1
    }]
  },
  options: {
    responsive: false,
    animation: false,
    events: [],
    layout: { padding: { top: 20, bottom: 20, left: 0, right: 0 } },
    plugins: {
      legend: { display: false },
      tooltip: { enabled: false },
      frame: { color: '#777' }
    },
    scales: {
      x: { display: false },
      y: {
        position: 'right',
        min: cbTicks[0],
        max: cbTicks[cbTicks.length - 1],
        afterBuildTicks: s => { s.ticks = cbTicks.map(v => ({ value: v })); },
        afterFit: s => { s.width = 113; },
        ticks: {
          font: { family: 'DejaVu Serif', size: 31 },
          color: '#000',
          padding: 1,
          callback: v => (v < -1e-9 ? '\u2212' : '') + Math.abs(v).toFixed(1)
        },
        grid: { drawOnChartArea: false, tickLength: 5, tickColor: AXIS },
        border: { display: false }
      }
    }
  },
  plugins: [framePlugin]
});
</script>
</body>
</html>
